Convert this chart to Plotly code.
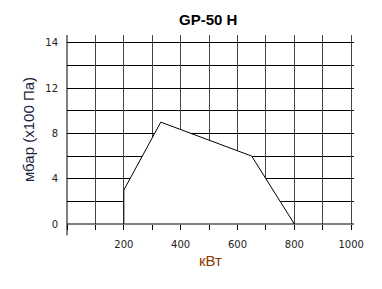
import plotly.graph_objects as go

# Data
power_kw = [200, 200, 330, 650, 800]
pressure_mbar = [0, 3, 9, 6, 0]

x_tick_vals = [0, 100, 200, 300, 400, 500, 600, 700, 800, 900, 1000]
x_tick_text = ["", "", "200", "", "400", "", "600", "", "800", "", "1000"]
y_tick_vals = [0, 4, 8, 12, 16]
y_tick_text = ["0", "4", "8", "12", "14"]

fig = go.Figure()
fig.add_trace(go.Scatter(
    x=power_kw, y=pressure_mbar, mode="lines", fill="toself",
    fillcolor="white", line=dict(color="black", width=1),
    hoverinfo="skip", showlegend=False,
))

fig.update_layout(
    width=382, height=289,
    margin=dict(l=67, r=28, t=35, b=65),
    paper_bgcolor="white", plot_bgcolor="white",
    title=dict(text="<b>GP-50 H</b>", x=0.545, xanchor="center", y=0.93, yanchor="middle",
               font=dict(family="Liberation Sans", size=15, color="black")),
    xaxis=dict(
        range=[0, 1010], tickvals=x_tick_vals, ticktext=x_tick_text,
        showgrid=True, gridcolor="#444", gridwidth=1,
        ticks="outside", ticklen=5, tickcolor="black", ticklabelstandoff=6,
        showline=False, zeroline=False,
        tickfont=dict(family="DejaVu Sans", size=10, color="#222"),
        title=dict(text="кВт", standoff=6,
                   font=dict(family="Liberation Sans Narrow, Liberation Sans", size=15, color="#8a3a00")),
        fixedrange=True,
    ),
    yaxis=dict(
        range=[0, 16.7], tickvals=y_tick_vals, ticktext=y_tick_text,
        dtick=2, showgrid=True, gridcolor="black", gridwidth=1,
        minor=dict(tickvals=[2, 6, 10, 14], showgrid=True, gridcolor="black", gridwidth=1),
        ticks="", showline=False, zeroline=False, ticklabelstandoff=8,
        tickfont=dict(family="DejaVu Sans", size=10, color="#222"),
        title=dict(text="мбар (x100 Па)", standoff=7,
                   font=dict(family="Liberation Sans Narrow, Liberation Sans", size=15, color="#1a2540")),
        fixedrange=True,
    ),
    shapes=[
        dict(type="line", xref="paper", yref="paper", x0=0, x1=0, y0=-0.06, y1=1,
             line=dict(color="black", width=1)),
        dict(type="line", xref="paper", yref="paper", x0=0, x1=1, y0=0, y1=0,
             line=dict(color="black", width=1)),
    ],
)

fig.write_html("out.html", config={"displayModeBar": False})
